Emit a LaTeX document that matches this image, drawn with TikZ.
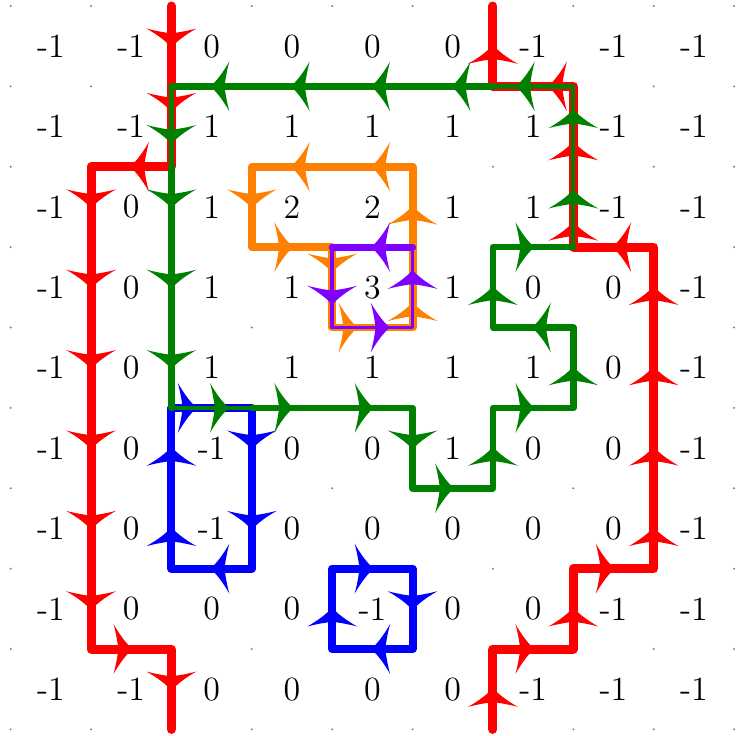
\documentclass[tikz,border=0pt]{standalone}
\usetikzlibrary{decorations.markings}
\definecolor{violetline}{rgb}{0.5,0,1}

\begin{document}
\begin{tikzpicture}[line cap=round, line join=round, font=\large,
  barb/.style={decoration={markings, mark=at position #1cm with {\fill (0.02,0) .. controls (-0.05,0.05) and (-0.14,0.17) .. (-0.22,0.31) .. controls (-0.19,0.2) and (-0.17,0.08) .. (-0.16,0) .. controls (-0.17,-0.08) and (-0.19,-0.2) .. (-0.22,-0.31) .. controls (-0.14,-0.17) and (-0.05,-0.05) .. cycle;}}},
  redline/.style={red, line width=3.2pt},
  blueline/.style={blue, line width=2.8pt},
  orangeline/.style={orange, line width=2.8pt},
  greenline/.style={green!50!black, line width=2.3pt},
  purpleline/.style={violetline, line width=2.5pt}]
  \useasboundingbox (-0.133,-0.082) rectangle (9.02,9.075);
  \foreach \x in {0,...,9}
    \foreach \y in {0,...,9}
      \fill[gray] (\x,\y) circle (0.4pt);
  \foreach \row [count=\r] in {{-1,-1,0,0,0,0,-1,-1,-1},{-1,-1,1,1,1,1,1,-1,-1},{-1,0,1,2,2,1,1,-1,-1},{-1,0,1,1,3,1,0,0,-1},{-1,0,1,1,1,1,1,0,-1},{-1,0,-1,0,0,1,0,0,-1},{-1,0,-1,0,0,0,0,0,-1},{-1,0,0,0,-1,0,0,-1,-1},{-1,-1,0,0,0,0,-1,-1,-1}}
    \foreach \v [count=\c] in \row
      \node (n\r-\c) at (\c-0.5,9.5-\r) {\v};
  % outer curves
  \draw[redline, postaction=decorate, barb/.list={0.5,1.3,2.5,3.5,4.5,5.5,6.5,7.5,8.5,9.5,10.5}] (2,9) -- (2,7) -- (1,7) -- (1,1) -- (2,1) -- (2,0);
  \draw[redline, postaction=decorate, barb/.list={0.5,1.5,2.5,3.5,4.5,5.5,6.5,7.5,8.5,9.3,10.3,11.3,12.5}] (6,0) -- (6,1) -- (7,1) -- (7,2) -- (8,2) -- (8,6) -- (7,6) -- (7,8) -- (6,8) -- (6,9);
  \draw[blueline, postaction=decorate, barb/.list={0.3,1.5,2.5,3.5,4.5,5.5}] (2,4) -- (3,4) -- (3,2) -- (2,2) -- cycle;
  \draw[blueline, postaction=decorate, barb/.list={0.5,1.5,2.5,3.5}] (4,2) -- (5,2) -- (5,1) -- (4,1) -- cycle;
  \draw[orangeline, postaction=decorate, barb/.list={0.5,1.5,2.3,3.3,4.3,5.5,6.5,7.5}] (3,7) -- (3,6) -- (4,6) -- (4,5) -- (5,5) -- (5,7) -- cycle;
  % inner curves, thin where shared
  \draw[greenline] (2,7) -- (2,4);
  \draw[greenline] (3,4) -- (5,4) -- (5,3) -- (6,3) -- (6,4) -- (7,4) -- (7,5) -- (6,5) -- (6,6) -- (7,6);
  \draw[greenline] (6,8) -- (2,8);
  \draw[greenline, line width=1.5pt] (2,8) -- (2,7) (2,4) -- (3,4) (7,6) -- (7,8) -- (6,8);
  \path[green!50!black, postaction=decorate, barb/.list={0.7,1.5,2.5,3.5,4.7,5.5,6.5,7.5,8.5,9.5,10.5,11.5,12.5,13.5,14.5,15.7,16.7,17.7,18.5,19.5,20.5,21.5}] (2,8) -- (2,4) -- (5,4) -- (5,3) -- (6,3) -- (6,4) -- (7,4) -- (7,5) -- (6,5) -- (6,6) -- (7,6) -- (7,8) -- cycle;
  \draw[purpleline] (5,6) -- (4,6);
  \draw[purpleline, line width=1.2pt] (4,6) -- (4,5) -- (5,5) -- (5,6);
  \path[violetline, postaction=decorate, barb/.list={0.5,1.7,2.7,3.7}] (5,6) -- (4,6) -- (4,5) -- (5,5) -- cycle;
\end{tikzpicture}
\end{document}
